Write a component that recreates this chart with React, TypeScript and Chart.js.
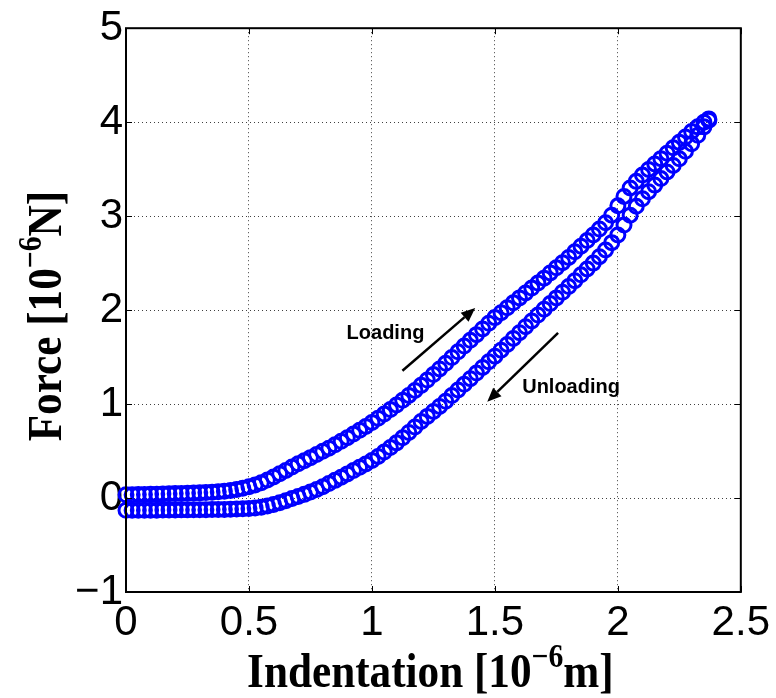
import React, { useEffect, useRef } from 'react';
import { Chart, registerables } from 'chart.js';

Chart.register(...registerables);

// Indentation samples [10^-6 m]
const indentation = [
  0.000, 0.025, 0.050, 0.075, 0.100, 0.125, 0.150, 0.175, 0.200, 0.225,
  0.250, 0.275, 0.300, 0.325, 0.350, 0.375, 0.400, 0.425, 0.450, 0.475,
  0.500, 0.525, 0.550, 0.575, 0.600, 0.625, 0.650, 0.675, 0.700, 0.725,
  0.750, 0.775, 0.800, 0.825, 0.850, 0.875, 0.900, 0.925, 0.950, 0.975,
  1.000, 1.025, 1.050, 1.075, 1.100, 1.125, 1.150, 1.175, 1.200, 1.225,
  1.250, 1.275, 1.300, 1.325, 1.350, 1.375, 1.400, 1.425, 1.450, 1.475,
  1.500, 1.525, 1.550, 1.575, 1.600, 1.625, 1.650, 1.675, 1.700, 1.725,
  1.750, 1.775, 1.800, 1.825, 1.850, 1.875, 1.900, 1.925, 1.950, 1.975,
  2.000, 2.025, 2.050, 2.075, 2.100, 2.125, 2.150, 2.175, 2.200, 2.225,
  2.250, 2.275, 2.300, 2.325, 2.350, 2.370,
];

// Force during loading [10^-6 N] (upper branch)
const loadingForce = [
  0.035, 0.036, 0.037, 0.038, 0.040, 0.041, 0.043, 0.045, 0.047, 0.049,
  0.051, 0.053, 0.055, 0.058, 0.062, 0.067, 0.073, 0.081, 0.091, 0.104,
  0.119, 0.139, 0.162, 0.192, 0.225, 0.259, 0.294, 0.330, 0.364, 0.397,
  0.430, 0.463, 0.497, 0.531, 0.567, 0.604, 0.642, 0.681, 0.721, 0.762,
  0.805, 0.849, 0.894, 0.941, 0.990, 1.040, 1.092, 1.145, 1.199, 1.256,
  1.314, 1.374, 1.434, 1.495, 1.556, 1.617, 1.678, 1.739, 1.800, 1.860,
  1.920, 1.973, 2.025, 2.078, 2.130, 2.183, 2.235, 2.288, 2.340, 2.395,
  2.450, 2.505, 2.560, 2.620, 2.680, 2.740, 2.800, 2.862, 2.930, 3.010,
  3.110, 3.210, 3.300, 3.370, 3.437, 3.497, 3.555, 3.612, 3.670, 3.727,
  3.785, 3.842, 3.900, 3.950, 4.000, 4.035,
];

// Force during unloading [10^-6 N] (lower branch)
const unloadingForce = [
  -0.130, -0.131, -0.131, -0.130, -0.130, -0.129, -0.128, -0.128, -0.127, -0.126,
  -0.126, -0.125, -0.125, -0.124, -0.123, -0.122, -0.121, -0.119, -0.117, -0.115,
  -0.112, -0.106, -0.097, -0.084, -0.068, -0.049, -0.028, -0.006, 0.016, 0.039,
  0.063, 0.090, 0.121, 0.154, 0.188, 0.222, 0.257, 0.292, 0.327, 0.363,
  0.400, 0.443, 0.489, 0.537, 0.587, 0.641, 0.698, 0.756, 0.815, 0.869,
  0.922, 0.975, 1.030, 1.090, 1.150, 1.210, 1.270, 1.330, 1.390, 1.450,
  1.510, 1.573, 1.635, 1.698, 1.760, 1.823, 1.885, 1.948, 2.010, 2.070,
  2.130, 2.190, 2.250, 2.313, 2.375, 2.438, 2.500, 2.568, 2.640, 2.718,
  2.800, 2.905, 3.010, 3.105, 3.185, 3.260, 3.330, 3.400, 3.470, 3.540,
  3.610, 3.690, 3.770, 3.860, 3.950, 4.020,
];

const xTicks = [0, 0.5, 1, 1.5, 2, 2.5];
const yTicks = [-1, 0, 1, 2, 3, 4, 5];

const xTitleParts = [
  { t: 'Indentation [10', sup: false },
  { t: '\u22126', sup: true },
  { t: 'm]', sup: false },
];
const yTitleParts = [
  { t: 'Force [10', sup: false },
  { t: '\u22126', sup: true },
  { t: 'N]', sup: false },
];

const labelTexts = ['Loading', 'Unloading'];
const labelX = [0.897, 1.611];
const labelY = [1.694, 1.121];
const arrowFromX = [1.124, 1.757];
const arrowFromY = [1.354, 1.757];
const arrowToX = [1.420, 1.469];
const arrowToY = [2.022, 1.025];

const SANS = '"Liberation Sans", Arial, Helvetica, sans-serif';
const SERIF = '"Liberation Serif", "Times New Roman", Times, serif';

function fmtTick(v: number): string {
  if (v < 0) return '\u2212' + String(Math.abs(v));
  return String(v);
}

function drawRich(
  ctx: CanvasRenderingContext2D,
  parts: { t: string; sup: boolean }[],
  cx: number,
  cy: number,
  angle: number
) {
  const mainFont = `bold 48px ${SERIF}`;
  const supFont = `bold 33px ${SERIF}`;
  const sx = 0.9;
  const widths = parts.map((p) => {
    ctx.font = p.sup ? supFont : mainFont;
    return ctx.measureText(p.t).width;
  });
  const total = widths.reduce((a, b) => a + b, 0);
  ctx.save();
  ctx.translate(cx, cy);
  ctx.rotate(angle);
  ctx.scale(sx, 1);
  ctx.fillStyle = '#000';
  ctx.textBaseline = 'alphabetic';
  ctx.textAlign = 'left';
  let x = -total / 2;
  parts.forEach((p, i) => {
    ctx.font = p.sup ? supFont : mainFont;
    ctx.fillText(p.t, x, p.sup ? -20 : 0);
    x += widths[i];
  });
  ctx.restore();
}

const decorPlugin = {
  id: 'decor',
  afterDatasetsDraw(chart: any) {
    const { ctx, chartArea: a, scales } = chart;
    const xs = scales.x;
    const ys = scales.y;
    ctx.save();
    // inward tick marks on all four sides
    ctx.strokeStyle = '#000';
    ctx.lineWidth = 1;
    const tl = 6;
    ctx.beginPath();
    xTicks.forEach((v) => {
      const px = Math.round(xs.getPixelForValue(v)) + 0.5;
      ctx.moveTo(px, a.bottom);
      ctx.lineTo(px, a.bottom - tl);
      ctx.moveTo(px, a.top);
      ctx.lineTo(px, a.top + tl);
    });
    yTicks.forEach((v) => {
      const py = Math.round(ys.getPixelForValue(v)) + 0.5;
      ctx.moveTo(a.left, py);
      ctx.lineTo(a.left + tl, py);
      ctx.moveTo(a.right, py);
      ctx.lineTo(a.right - tl, py);
    });
    ctx.stroke();
    // axes box
    ctx.lineWidth = 2;
    ctx.strokeRect(a.left, a.top, a.right - a.left, a.bottom - a.top);

    // arrows
    ctx.fillStyle = '#000';
    ctx.strokeStyle = '#000';
    for (let i = 0; i < arrowFromX.length; i++) {
      const x1 = xs.getPixelForValue(arrowFromX[i]);
      const y1 = ys.getPixelForValue(arrowFromY[i]);
      const x2 = xs.getPixelForValue(arrowToX[i]);
      const y2 = ys.getPixelForValue(arrowToY[i]);
      const ang = Math.atan2(y2 - y1, x2 - x1);
      const hl = 14;
      const hw = 6;
      const bx = x2 - hl * Math.cos(ang);
      const by = y2 - hl * Math.sin(ang);
      ctx.lineWidth = 2.5;
      ctx.beginPath();
      ctx.moveTo(x1, y1);
      ctx.lineTo(bx, by);
      ctx.stroke();
      ctx.beginPath();
      ctx.moveTo(x2, y2);
      ctx.lineTo(bx + hw * Math.sin(ang), by - hw * Math.cos(ang));
      ctx.lineTo(bx - hw * Math.sin(ang), by + hw * Math.cos(ang));
      ctx.closePath();
      ctx.fill();
    }
    // annotation labels
    ctx.font = `bold 20px ${SANS}`;
    ctx.textAlign = 'left';
    ctx.textBaseline = 'alphabetic';
    for (let i = 0; i < labelTexts.length; i++) {
      ctx.fillText(labelTexts[i], xs.getPixelForValue(labelX[i]), ys.getPixelForValue(labelY[i]));
    }
    // axis titles
    drawRich(ctx, xTitleParts, (a.left + a.right) / 2 - 3, 687, 0);
    drawRich(ctx, yTitleParts, 61, (a.top + a.bottom) / 2 + 6, -Math.PI / 2);
    ctx.restore();
  },
};

export default function App() {
  const canvasRef = useRef<HTMLCanvasElement | null>(null);

  useEffect(() => {
    const canvas = canvasRef.current;
    if (!canvas) return;
    const loading = indentation.map((x, i) => ({ x, y: loadingForce[i] }));
    const unloading = indentation.map((x, i) => ({ x, y: unloadingForce[i] }));
    const pointStyle = {
      showLine: false,
      pointStyle: 'circle',
      pointRadius: 7,
      pointBorderWidth: 3,
      pointBorderColor: '#0000ff',
      pointBackgroundColor: 'rgba(0,0,0,0)',
      clip: false as any,
    };
    const chart = new Chart(canvas, {
      type: 'scatter',
      data: {
        datasets: [
          { label: 'Loading', data: loading, ...pointStyle } as any,
          { label: 'Unloading', data: unloading, ...pointStyle } as any,
        ],
      },
      options: {
        responsive: false,
        animation: false,
        devicePixelRatio: 1,
        events: [],
        layout: { padding: { top: 26, right: 29, left: 0, bottom: 0 } },
        plugins: {
          legend: { display: false },
          tooltip: { enabled: false },
          title: { display: false },
        },
        scales: {
          x: {
            type: 'linear',
            min: 0,
            max: 2.5,
            afterFit: (s: any) => {
              s.height = 106;
            },
            afterBuildTicks: (s: any) => {
              s.ticks = xTicks.map((v) => ({ value: v }));
            },
            ticks: {
              color: '#000',
              font: { family: SANS, size: 42 },
              padding: 6,
              maxRotation: 0,
              autoSkip: false,
              callback: (v: any) => fmtTick(Number(v)),
            },
            grid: { color: 'rgba(0,0,0,0.75)', lineWidth: 1, drawTicks: false },
            border: { display: false, dash: [1, 3] },
          },
          y: {
            type: 'linear',
            min: -1,
            max: 5,
            afterFit: (s: any) => {
              s.width = 126;
            },
            afterBuildTicks: (s: any) => {
              s.ticks = yTicks.map((v) => ({ value: v }));
            },
            ticks: {
              color: '#000',
              font: { family: SANS, size: 42 },
              padding: 3,
              autoSkip: false,
              callback: (v: any) => fmtTick(Number(v)),
            },
            grid: { color: 'rgba(0,0,0,0.75)', lineWidth: 1, drawTicks: false },
            border: { display: false, dash: [1, 3] },
          },
        },
      },
      plugins: [decorPlugin],
    });
    return () => chart.destroy();
  }, []);

  return (
    <div style={{ position: 'absolute', left: 0, top: 0, width: 776, height: 698, background: '#fff' }}>
      <canvas ref={canvasRef} width={776} height={698} style={{ display: 'block' }} />
    </div>
  );
}
